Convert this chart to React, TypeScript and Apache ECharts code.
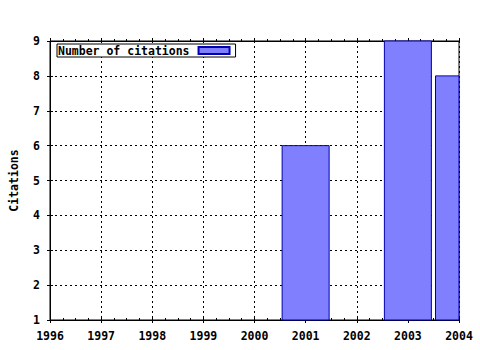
import React, { useEffect, useRef } from "react";
import * as echarts from "echarts";

const years = [2001, 2003, 2004];
const citations = [6, 9, 8];
const xMin = 1996;
const xMax = 2004;
const yMin = 1;
const yMax = 9;
const seriesName = "Number of citations";
const yTitle = "Citations";

const FONT = "DejaVu Sans Mono";
const BAR_W = 47;

export default function App() {
  const ref = useRef<HTMLDivElement>(null);
  useEffect(() => {
    if (!ref.current) return;
    const chart = echarts.init(ref.current, undefined, { renderer: "svg" });
    const txt = { fontFamily: FONT, fontWeight: "bold" as const, fontSize: 11.5, color: "#000" };
    const noShow = { show: false };
    const black = { color: "#000", width: 1 };
    chart.setOption({
      animation: false,
      backgroundColor: "#fff",
      grid: {
        left: 50,
        top: 41,
        right: 21,
        bottom: 30,
        outerBoundsMode: "none",
        containLabel: false,
        show: true,
        borderColor: "#000",
        borderWidth: 1,
        backgroundColor: "transparent",
      },
      legend: {
        left: 57,
        top: 44,
        padding: [0, 5, 0, 1],
        backgroundColor: "#fff",
        borderColor: "#000",
        borderWidth: 1,
        borderRadius: 0,
        align: "right",
        itemWidth: 31,
        itemHeight: 7,
        icon: "rect",
        textStyle: { ...txt, lineHeight: 13, padding: [0, 4, 0, 0] },
        data: [seriesName],
      },
      xAxis: [
        {
          type: "value",
          position: "bottom",
          min: xMin,
          max: xMax,
          interval: 1,
          axisLine: { show: true, lineStyle: black },
          axisTick: { show: true, inside: true, length: 3, lineStyle: black },
          minorTick: { show: true, splitNumber: 4, length: 2, lineStyle: black },
          axisLabel: { ...txt, margin: 10, formatter: (v: number) => String(v) },
          splitLine: { show: true, lineStyle: { color: "#000", width: 1, type: [2, 3] } },
        },
        {
          type: "value",
          position: "bottom",
          min: xMin,
          max: xMax,
          interval: 1,
          axisLine: noShow,
          axisTick: { show: true, inside: false, length: 3, lineStyle: black },
          axisLabel: noShow,
          splitLine: noShow,
        },
        {
          type: "value",
          position: "top",
          min: xMin,
          max: xMax,
          interval: 1,
          axisLine: { show: true, lineStyle: black },
          axisTick: { show: true, inside: false, length: 3, lineStyle: black },
          minorTick: { show: true, splitNumber: 4, length: 2, lineStyle: black },
          axisLabel: noShow,
          splitLine: noShow,
        },
      ],
      yAxis: [
        {
          type: "value",
          position: "left",
          min: yMin,
          max: yMax,
          interval: 1,
          name: yTitle,
          nameLocation: "middle",
          nameRotate: 90,
          nameGap: 30,
          nameTextStyle: txt,
          axisLine: { show: true, lineStyle: black },
          axisTick: { show: true, inside: false, length: 3, lineStyle: black },
          axisLabel: { ...txt, margin: 10 },
          splitLine: { show: true, lineStyle: { color: "#000", width: 1, type: [2, 3] } },
        },
        {
          type: "value",
          position: "left",
          min: yMin,
          max: yMax,
          interval: 1,
          axisLine: noShow,
          axisTick: { show: true, inside: true, length: 3, lineStyle: black },
          axisLabel: noShow,
          splitLine: noShow,
        },
      ],
      series: [
        {
          type: "custom",
          name: seriesName,
          xAxisIndex: 0,
          yAxisIndex: 0,
          itemStyle: { color: "#8080ff", borderColor: "#0000b0", borderWidth: 1 },
          encode: { x: 0, y: 1 },
          renderItem: (params: any, api: any) => {
            const x = api.value(0);
            const y = api.value(1);
            const top = api.coord([x, y]);
            const base = api.coord([x, yMin]);
            const cs = params.coordSys;
            const shape = echarts.graphic.clipRectByRect(
              { x: top[0] - BAR_W / 2, y: top[1], width: BAR_W, height: base[1] - top[1] },
              { x: cs.x, y: cs.y, width: cs.width, height: cs.height }
            );
            if (!shape) return null;
            return { type: "rect", shape, style: api.style() };
          },
          data: years.map((y, i) => [y, citations[i]]),
        },
      ],
    });
    return () => chart.dispose();
  }, []);
  return (
    <div
      ref={ref}
      style={{ position: "fixed", left: 0, top: 0, width: 480, height: 350 }}
    />
  );
}
